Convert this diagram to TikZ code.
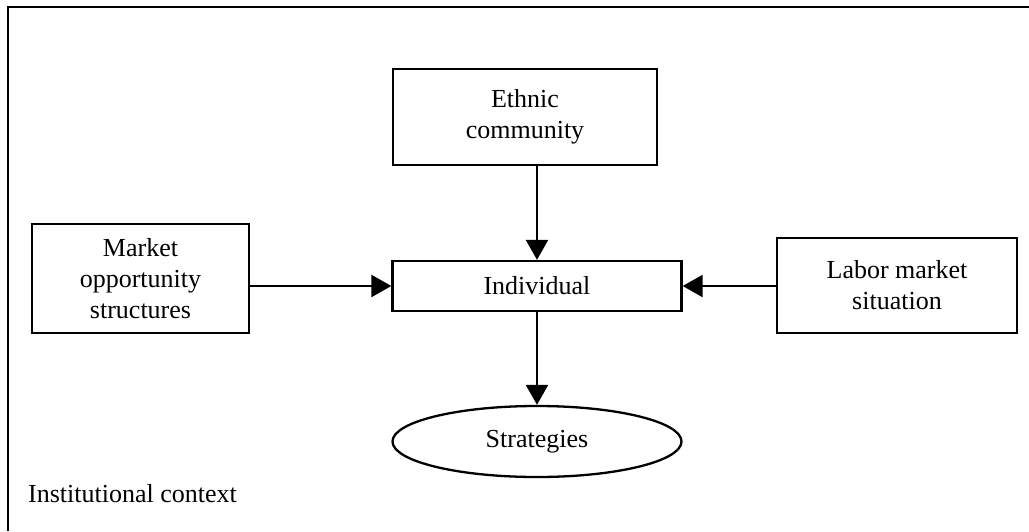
\documentclass[tikz,border=0pt]{standalone}
\usepackage{fontspec}
\setmainfont{Liberation Serif}
\usetikzlibrary{shapes.geometric,arrows.meta}
\begin{document}
\begin{tikzpicture}[x=1pt,y=-1pt,
  box/.style={draw,line width=2.3pt,inner sep=0pt,align=center,font=\fontsize{26}{31}\selectfont},
  arr/.style={line width=2.3pt,-{Triangle[length=20pt,width=22pt]}}]
\useasboundingbox (0,0) rectangle (1029,531);
\draw[line width=2.8pt] (8,531) -- (8,7) -- (1029,7);
\node[box,minimum width=264pt,minimum height=96pt] (ethnic) at (525,117) {Ethnic\\community};
\node[box,minimum width=217pt,minimum height=109pt] (market) at (140.5,278.5) {Market\\opportunity\\structures};
\node[box,minimum width=289pt,minimum height=50pt] (indiv) at (537,286) {Individual};
\node[box,minimum width=240pt,minimum height=95pt] (labor) at (897,285.5) {Labor market\\situation};
\node[box,ellipse,minimum width=289pt,minimum height=71pt] (strat) at (537,441.5) {Strategies};
\node[anchor=base west,inner sep=0pt,font=\fontsize{26}{31}\selectfont] (inst) at (28,502) {Institutional context};
\draw[arr] (ethnic.south -| indiv.north) -- (indiv.north);
\draw[arr] (market.east |- indiv.west) -- (indiv.west);
\draw[arr] (labor.west |- indiv.east) -- (indiv.east);
\draw[arr] (indiv.south) -- (strat.north);
\end{tikzpicture}
\end{document}
